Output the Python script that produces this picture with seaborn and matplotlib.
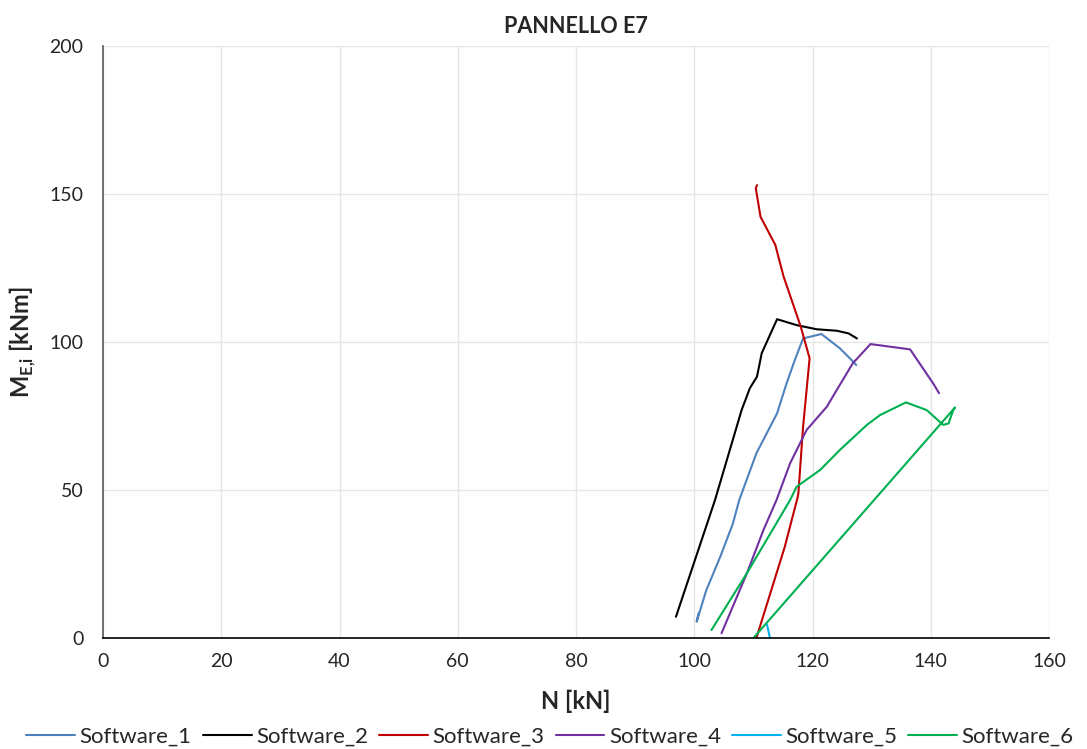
import matplotlib
matplotlib.use("Agg")
import matplotlib.pyplot as plt
import seaborn as sns
import pandas as pd

# Interaction curves N [kN] vs M_E,i [kNm] for panel E7
sw1_n = [100.7, 100.4, 102.0, 104.4, 106.5, 107.6, 110.5, 114.0, 115.6, 117.0, 118.4, 121.5, 124.6, 126.6, 127.4]
sw1_m = [8.3, 5.5, 16.0, 27.5, 38.5, 46.6, 62.4, 75.9, 86.0, 93.9, 101.2, 102.7, 97.9, 93.9, 92.2]

sw2_n = [96.9, 103.5, 108.0, 109.4, 110.6, 111.4, 112.8, 114.0, 117.3, 120.7, 124.1, 126.1, 127.5]
sw2_m = [7.2, 46.6, 77.0, 84.4, 88.3, 96.2, 102.4, 107.7, 105.7, 104.3, 103.8, 102.9, 101.2]

sw3_n = [110.6, 110.4, 111.2, 113.7, 115.1, 118.0, 119.5, 118.4, 117.6, 117.5, 115.3, 110.5]
sw3_m = [153.0, 151.9, 142.3, 132.8, 122.1, 105.2, 94.5, 71.4, 48.9, 47.7, 30.8, 0.0]

sw4_n = [104.6, 108.9, 111.7, 113.9, 116.2, 119.0, 122.4, 124.1, 126.8, 129.8, 136.5, 140.4, 141.4]
sw4_m = [1.6, 21.9, 36.5, 46.6, 59.0, 70.3, 78.1, 83.8, 92.8, 99.3, 97.5, 86.0, 82.7]

sw5_n = [112.3, 112.8]
sw5_m = [4.5, 0.0]

sw6_n = [102.9, 108.9, 116.2, 117.3, 121.3, 124.6, 129.2, 131.4, 135.8, 139.3, 142.1, 143.0, 143.8, 144.1, 110.0]
sw6_m = [2.7, 21.9, 46.6, 51.1, 56.8, 63.5, 72.0, 75.3, 79.6, 77.0, 72.0, 72.5, 77.0, 77.9, 0.0]

series_names = ["Software_1", "Software_2", "Software_3", "Software_4", "Software_5", "Software_6"]
series_n = [sw1_n, sw2_n, sw3_n, sw4_n, sw5_n, sw6_n]
series_m = [sw1_m, sw2_m, sw3_m, sw4_m, sw5_m, sw6_m]
colors = ["#4F81BD", "#000000", "#C00000", "#7030A0", "#00B0F0", "#00B050"]

frames = []
for name, n, m in zip(series_names, series_n, series_m):
    frames.append(pd.DataFrame({"N": n, "M": m, "serie": name}))
df = pd.concat(frames, ignore_index=True)

sns.set_style("white")
plt.rcParams["font.family"] = ["Lato", "DejaVu Sans"]
plt.rcParams["mathtext.fontset"] = "custom"
plt.rcParams["mathtext.rm"] = "Lato"
plt.rcParams["mathtext.bf"] = "Lato:bold"

fig = plt.figure(figsize=(10.87, 7.49), dpi=100)
ax = fig.add_axes([0.0948, 0.1482, 0.8703, 0.7904])

sns.lineplot(data=df, x="N", y="M", hue="serie", hue_order=series_names,
             palette=colors, sort=False, estimator=None,
             linewidth=1.5, ax=ax, legend=False)

ax.set_xlim(0, 160)
ax.set_ylim(0, 200)
ax.set_xticks(range(0, 161, 20))
ax.set_yticks(range(0, 201, 50))
ax.grid(True, color="#E6E6E6", linewidth=1.0)
ax.set_axisbelow(True)
for s in ["top", "right"]:
    ax.spines[s].set_visible(False)
ax.spines["bottom"].set_color("#000000")
ax.spines["bottom"].set_linewidth(1.2)
ax.spines["left"].set_color("#595959")
ax.spines["left"].set_linewidth(1.2)
ax.tick_params(axis="x", direction="inout", length=12, width=1.2, color="#000000",
               labelsize=14, pad=5)
ax.tick_params(axis="y", direction="out", length=8, width=1.2, color="#595959",
               labelsize=14, pad=6)

ax.set_title("PANNELLO E7", fontsize=15.5, fontweight="bold", pad=9)
ax.set_xlabel("N [kN]", fontsize=17, fontweight="bold", labelpad=14)
ax.set_ylabel(r"M$_{\mathbf{E{,}i}}$ [kNm]", fontsize=17, fontweight="bold", labelpad=8)

handles = [plt.Line2D([], [], color=c, linewidth=1.5) for c in colors]
fig.legend(handles, series_names, loc="center", bbox_to_anchor=(0.506, 0.016),
           ncol=6, frameon=False, fontsize=16, handlelength=2.2, handletextpad=0.2,
           columnspacing=0.5, borderaxespad=0.0)

fig.savefig("out.png", dpi=100)
